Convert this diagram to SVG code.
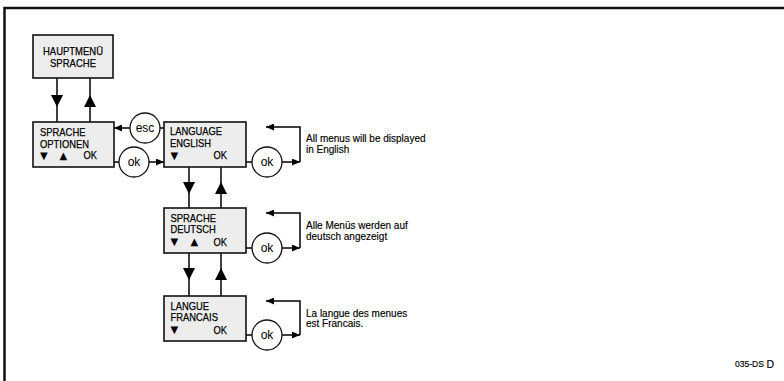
<svg xmlns="http://www.w3.org/2000/svg" width="784" height="381" viewBox="0 0 784 381">
<style>
.box{fill:#ededed;stroke:#111;stroke-width:1.6}
.t{font-family:"Liberation Sans",Arial,sans-serif;font-size:11.5px;fill:#000;stroke:#000;stroke-width:0.25}
.s{font-family:"DejaVu Sans",sans-serif;font-size:10px;fill:#000}
.n{font-family:"Liberation Sans",Arial,sans-serif;font-size:10px;fill:#000;stroke:#000;stroke-width:0.15}
.c{fill:#fff;stroke:#111;stroke-width:1.3}
.ct{font-family:"Liberation Sans",Arial,sans-serif;font-size:12px;fill:#000;text-anchor:middle}
.ln{stroke:#000;stroke-width:1.5;fill:none}
.big{marker-mid:url(#big)}
.end{marker-end:url(#sm)}
</style>
<defs>
<marker id="big" markerUnits="userSpaceOnUse" markerWidth="12" markerHeight="12" refX="6" refY="6" orient="auto" viewBox="0 0 12 12"><path d="M0,0 L12,6 L0,12 Z" fill="#000"/></marker>
<marker id="sm" markerUnits="userSpaceOnUse" markerWidth="8" markerHeight="7" refX="8" refY="3.5" orient="auto" viewBox="0 0 8 7"><path d="M0,0 L8,3.5 L0,7 Z" fill="#000"/></marker>
</defs>
<rect width="784" height="381" fill="#fff"/>
<path d="M4.5,381 V8 H784" fill="none" stroke="#111" stroke-width="2.5"/>

<g id="connectors">
<path class="ln big" d="M57,78 V101 V122"/>
<path class="ln big" d="M90,122 V101 V78"/>
<path class="ln big" d="M189,167 V188 V208"/>
<path class="ln big" d="M221,208 V188 V167"/>
<path class="ln big" d="M189,253 V274 V296"/>
<path class="ln big" d="M221,296 V274 V253"/>
<path class="ln end" d="M130,128 H114"/>
<path class="ln" d="M160,128 H164"/>
<path class="ln" d="M114,162 H119"/>
<path class="ln end" d="M149,162 H164"/>
<path class="ln" d="M246,162 H252"/>
<path class="ln end" d="M282,162 H300"/>
<path class="ln end" d="M300,162 V127 H266"/>
<path class="ln" d="M246,248 H252"/>
<path class="ln end" d="M282,248 H300"/>
<path class="ln end" d="M300,248 V213 H266"/>
<path class="ln" d="M246,335 H252"/>
<path class="ln end" d="M282,335 H300"/>
<path class="ln end" d="M300,335 V301 H266"/>
</g>

<g id="hauptmenu">
<rect class="box" x="33" y="35" width="80" height="43"/>
<text class="t" x="43" y="55" textLength="60" lengthAdjust="spacingAndGlyphs">HAUPTMENÜ</text>
<text class="t" x="50" y="66.5" textLength="46" lengthAdjust="spacingAndGlyphs">SPRACHE</text>
</g>

<g id="sprache-optionen">
<rect class="box" x="33" y="122" width="81" height="45"/>
<text class="t" x="40" y="135.5" textLength="45.5" lengthAdjust="spacingAndGlyphs">SPRACHE</text>
<text class="t" x="40" y="147.5" textLength="49" lengthAdjust="spacingAndGlyphs">OPTIONEN</text>
<text class="s" x="40" y="159">▼</text>
<text class="s" x="59.5" y="159">▲</text>
<text class="t" x="83.5" y="159.3" textLength="13.5" lengthAdjust="spacingAndGlyphs">OK</text>
</g>

<g id="language-english">
<rect class="box" x="164" y="122" width="82" height="45"/>
<text class="t" x="170" y="135.3" textLength="52" lengthAdjust="spacingAndGlyphs">LANGUAGE</text>
<text class="t" x="170" y="147" textLength="41" lengthAdjust="spacingAndGlyphs">ENGLISH</text>
<text class="s" x="170.5" y="159">▼</text>
<text class="t" x="213.5" y="159.3" textLength="13.5" lengthAdjust="spacingAndGlyphs">OK</text>
</g>

<g id="sprache-deutsch">
<rect class="box" x="164" y="208" width="82" height="45"/>
<text class="t" x="170.5" y="221.5" textLength="45.5" lengthAdjust="spacingAndGlyphs">SPRACHE</text>
<text class="t" x="170.5" y="233.2" textLength="45.3" lengthAdjust="spacingAndGlyphs">DEUTSCH</text>
<text class="s" x="170.5" y="245.3">▼</text>
<text class="s" x="190.5" y="245.3">▲</text>
<text class="t" x="213.5" y="245.5" textLength="13.5" lengthAdjust="spacingAndGlyphs">OK</text>
</g>

<g id="langue-francais">
<rect class="box" x="164" y="296" width="82" height="45"/>
<text class="t" x="170.5" y="309.5" textLength="38.5" lengthAdjust="spacingAndGlyphs">LANGUE</text>
<text class="t" x="170.5" y="321.2" textLength="47.4" lengthAdjust="spacingAndGlyphs">FRANCAIS</text>
<text class="s" x="170.5" y="333.3">▼</text>
<text class="t" x="213.5" y="333.5" textLength="13.5" lengthAdjust="spacingAndGlyphs">OK</text>
</g>

<g id="esc">
<circle class="c" cx="145" cy="128" r="15"/>
<text class="ct" x="145" y="132">esc</text>
</g>
<g id="ok-1">
<circle class="c" cx="134" cy="162" r="15"/>
<text class="ct" x="134" y="166">ok</text>
</g>
<g id="ok-2">
<circle class="c" cx="267" cy="162" r="15"/>
<text class="ct" x="267" y="166">ok</text>
</g>
<g id="ok-3">
<circle class="c" cx="267" cy="248" r="15"/>
<text class="ct" x="267" y="252">ok</text>
</g>
<g id="ok-4">
<circle class="c" cx="267" cy="335" r="15"/>
<text class="ct" x="267" y="339">ok</text>
</g>

<g id="note-english">
<text class="n" x="306" y="142">All menus will be displayed</text>
<text class="n" x="306" y="153">in English</text>
</g>
<g id="note-deutsch">
<text class="n" x="306" y="229">Alle Menüs werden auf</text>
<text class="n" x="306" y="240">deutsch angezeigt</text>
</g>
<g id="note-francais">
<text class="n" x="306" y="316.5">La langue des menues</text>
<text class="n" x="306" y="327">est Francais.</text>
</g>

<g id="code">
<text class="n" x="735" y="367" style="font-size:8.5px">035-DS</text>
<text class="n" x="766.5" y="368" style="font-size:10.5px">D</text>
</g>
</svg>
